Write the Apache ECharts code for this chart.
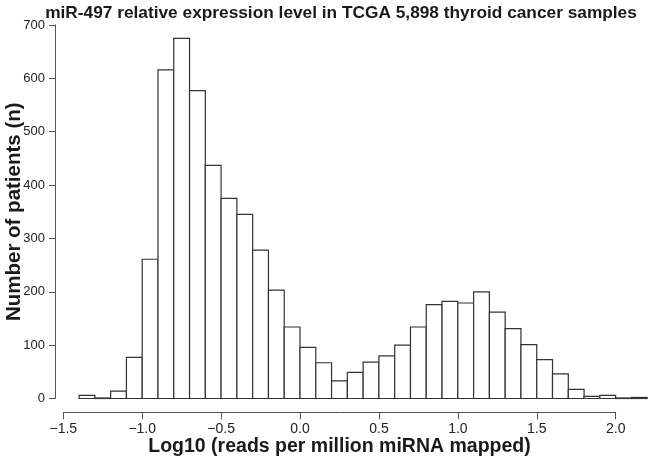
<!DOCTYPE html>
<html><head><meta charset="utf-8">
<script src="https://cdn.jsdelivr.net/npm/echarts@6/dist/echarts.min.js"></script>
<style>html,body{margin:0;padding:0;background:#fff}#c{width:648px;height:460px}</style>
</head><body><div id="c"></div>
<script>
// Histogram bin edges (Log10 reads per million miRNA mapped)
const binEdges = [-1.4,-1.3,-1.2,-1.1,-1.0,-0.9,-0.8,-0.7,-0.6,-0.5,-0.4,-0.3,-0.2,-0.1,0.0,
  0.1,0.2,0.3,0.4,0.5,0.6,0.7,0.8,0.9,1.0,1.1,1.2,1.3,1.4,1.5,1.6,1.7,1.8,1.9,2.0,2.1,2.2];
// Number of patients per bin
const counts = [6,1,14,77,261,616,675,577,437,375,345,278,203,134,96,67,33,49,68,80,100,134,176,182,179,200,162,131,101,73,46,17,4,6,1,2];
// Axis ticks
const xTicks = [-1.5,-1.0,-0.5,0.0,0.5,1.0,1.5,2.0];
const yTicks = [0,100,200,300,400,500,600,700];

const FONT = '"Liberation Sans", Arial, Helvetica, sans-serif';
const chart = echarts.init(document.getElementById('c'));
const barData = counts.map((v,i)=>[binEdges[i], binEdges[i+1], v]);

chart.setOption({
  animation:false,
  backgroundColor:'#fff',
  title:{
    text:'miR-497 relative expression level in TCGA 5,898 thyroid cancer samples',
    left:336, top:0, textAlign:'center',
    textStyle:{fontFamily:FONT, fontSize:17.3, fontWeight:'bold', color:'#1a1a1a'}
  },
  grid:[
    {left:63.3, right:0.8, top:25, bottom:61.5, containLabel:false, outerBoundsMode:'none'},
    {left:63.3, width:552.4, top:25, bottom:47.7, containLabel:false, outerBoundsMode:'none'}
  ],
  xAxis:[
    {gridIndex:0, type:'value', min:-1.5, max:2.2, show:false},
    {gridIndex:1, type:'value', min:xTicks[0], max:xTicks[xTicks.length-1], interval:0.5,
     axisLine:{show:true, onZero:false, lineStyle:{color:'#555', width:1}},
     axisTick:{show:true, inside:false, length:7, lineStyle:{color:'#555'}},
     splitLine:{show:false},
     axisLabel:{fontFamily:FONT, fontSize:14, color:'#222', margin:10,
       formatter:v=>v.toFixed(1).replace('-','\u2212')},
     name:'Log10 (reads per million miRNA mapped)', nameLocation:'middle', nameGap:24,
     nameMoveOverlap:false,
     nameTextStyle:{fontFamily:FONT, fontSize:19.5, fontWeight:'bold', color:'#1a1a1a'}}
  ],
  yAxis:[
    {gridIndex:0, type:'value', min:yTicks[0], max:yTicks[yTicks.length-1], interval:100, offset:8.3,
     axisLine:{show:true, onZero:false, lineStyle:{color:'#555', width:1}},
     axisTick:{show:true, inside:false, length:6, lineStyle:{color:'#555'}},
     splitLine:{show:false},
     axisLabel:{fontFamily:FONT, fontSize:13, color:'#222', margin:10},
     name:'Number of patients (n)', nameLocation:'middle', nameGap:30, nameRotate:90,
     nameMoveOverlap:false,
     nameTextStyle:{fontFamily:FONT, fontSize:20.5, fontWeight:'bold', color:'#1a1a1a'}},
    {gridIndex:1, type:'value', min:0, max:1, show:false}
  ],
  series:[
    {type:'custom', xAxisIndex:0, yAxisIndex:0, data:barData,
     encode:{x:[0,1], y:2},
     renderItem:function(params, api){
       const p0 = api.coord([api.value(0), api.value(2)]);
       const p1 = api.coord([api.value(1), 0]);
       return {type:'rect',
         shape:{x:p0[0], y:p0[1], width:p1[0]-p0[0], height:p1[1]-p0[1]},
         style:{fill:'#fff', stroke:'#333', lineWidth:1.2}};
     }},
    {type:'scatter', xAxisIndex:1, yAxisIndex:1, data:[], silent:true}
  ]
});
</script></body></html>
